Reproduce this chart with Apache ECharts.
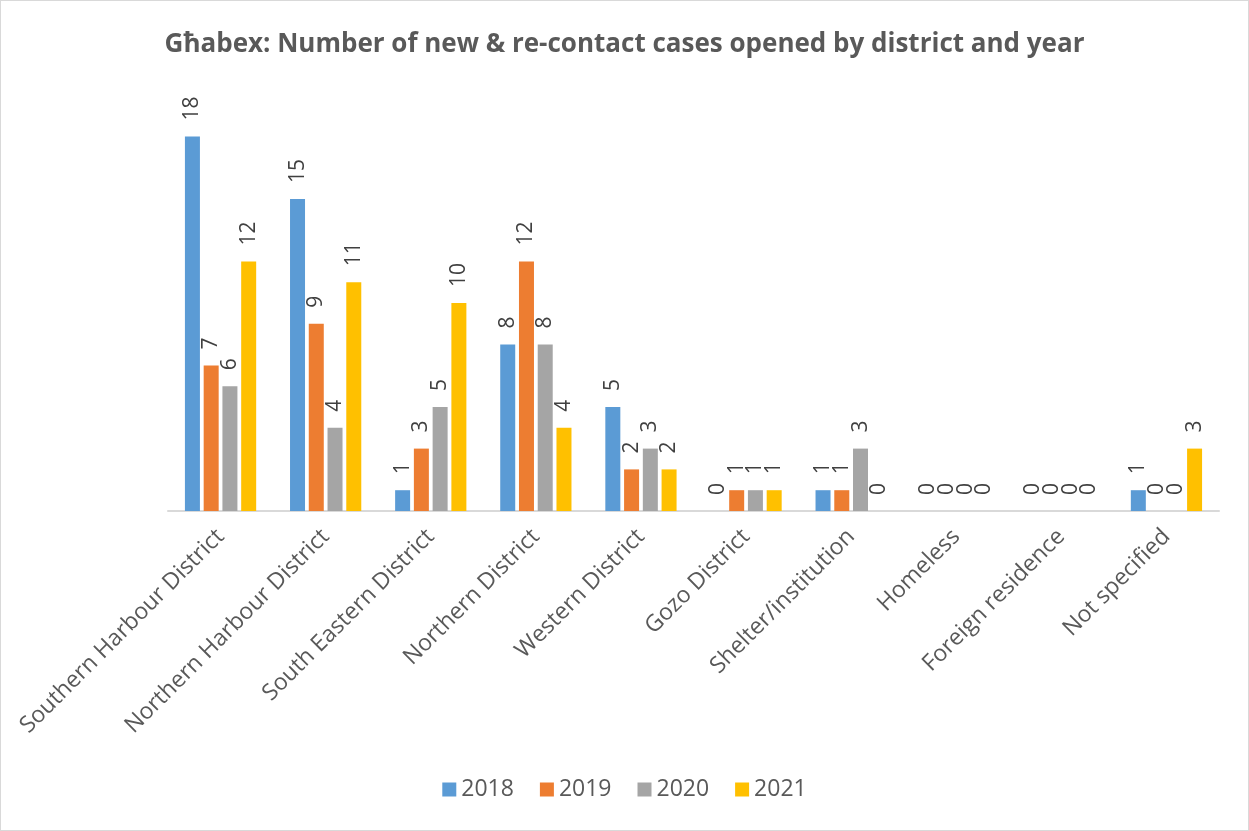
<!DOCTYPE html>
<html>
<head>
<meta charset="utf-8">
<script src="https://cdn.jsdelivr.net/npm/echarts@6/dist/echarts.min.js"></script>
<style>
  html, body { margin: 0; padding: 0; background: #fff; }
  #chart { width: 1247px; height: 829px; border: 1px solid #d9d9d9; }
</style>
</head>
<body>
<div id="chart"></div>
<script>
const districts = [
  "Southern Harbour District", "Northern Harbour District", "South Eastern District",
  "Northern District", "Western District", "Gozo District", "Shelter/institution",
  "Homeless", "Foreign residence", "Not specified"
];
const years = ["2018", "2019", "2020", "2021"];
const cases2018 = [18, 15, 1, 8, 5, 0, 1, 0, 0, 1];
const cases2019 = [7, 9, 3, 12, 2, 1, 1, 0, 0, 0];
const cases2020 = [6, 4, 5, 8, 3, 1, 3, 0, 0, 0];
const cases2021 = [12, 11, 10, 4, 2, 1, 0, 0, 0, 3];
const colors = ["#5b9bd5", "#ed7d31", "#a5a5a5", "#ffc000"];

const chart = echarts.init(document.getElementById("chart"));
const font = "'Open Sans', 'Liberation Sans', sans-serif";

const makeSeries = (name, data, i) => ({
  name: name,
  type: "bar",
  data: data,
  barWidth: 15,
  barGap: "25%",
  itemStyle: { color: colors[i] },
  label: {
    show: true,
    position: "top",
    rotate: 90,
    align: "left",
    verticalAlign: "middle",
    distance: 16,
    color: "#404040",
    fontSize: 21,
    fontFamily: font
  }
});

chart.setOption({
  animation: false,
  title: {
    text: "Għabex: Number of new & re-contact cases opened by district and year",
    left: "center",
    top: 26,
    textStyle: { fontSize: 26, fontWeight: "bold", color: "#595959", fontFamily: font }
  },
  legend: {
    bottom: 24,
    left: "center",
    itemWidth: 14,
    itemHeight: 14,
    itemGap: 26,
    icon: "rect",
    textStyle: { fontSize: 23, color: "#595959", fontFamily: font }
  },
  grid: { left: 167, right: 29, top: 94, bottom: 319 },
  xAxis: {
    type: "category",
    data: districts,
    axisLine: { lineStyle: { color: "#d9d9d9", width: 2 } },
    axisTick: { show: false },
    axisLabel: {
      rotate: 45,
      interval: 0,
      margin: 22,
      fontSize: 23,
      color: "#595959",
      fontFamily: font
    }
  },
  yAxis: {
    type: "value",
    min: 0,
    max: 20,
    show: false
  },
  series: [
    makeSeries(years[0], cases2018, 0),
    makeSeries(years[1], cases2019, 1),
    makeSeries(years[2], cases2020, 2),
    makeSeries(years[3], cases2021, 3)
  ]
});
</script>
</body>
</html>
